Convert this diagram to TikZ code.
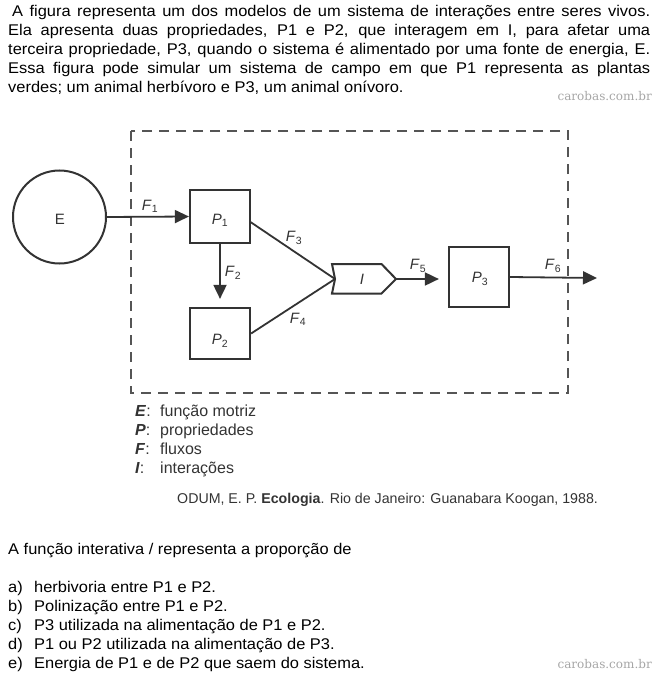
\documentclass[tikz,border=0pt]{standalone}
\usepackage{fontspec}
\setmainfont{Liberation Sans}
\newfontfamily\widefont[FakeStretch=1.06]{Liberation Sans}
\newfontfamily\wmfont{DejaVu Serif}
\usetikzlibrary{arrows.meta}
\definecolor{ink}{HTML}{333333}
\definecolor{dashgray}{HTML}{555555}
\definecolor{wm}{HTML}{A6A6A6}
\newcommand{\jline}[1]{\hbox to 642pt{#1}}
\newcommand{\Fl}[1]{\textit{F}\textsubscript{#1}}
\newcommand{\Pl}[1]{\textit{P}\textsubscript{#1}}
\begin{document}
\begin{tikzpicture}[x=1pt,y=-1pt,
  txt/.style={anchor=base west, inner sep=0pt, font=\widefont\fontsize{15.5}{19}\selectfont},
  leg/.style={anchor=base west, inner sep=0pt, text=ink, font=\fontsize{16}{19}\selectfont},
  wmark/.style={anchor=base east, inner sep=0pt, text=wm, font=\wmfont\fontsize{12}{12}\selectfont},
  boxnode/.style={draw=ink, line width=2.2pt, minimum width=60pt, inner sep=0pt},
  flow/.style={draw=ink, line width=1.8pt},
  arr/.style={flow, -{Triangle[length=14pt,width=13pt]}},
  flab/.style={inner sep=0pt, text=ink, font=\fontsize{15}{15}\selectfont},
  border/.style={draw=dashgray, line width=2.4pt, dash pattern=on 10pt off 7pt}
]
\useasboundingbox (0,0) rectangle (657,674);

% top paragraph
\node[txt] (t1) at (8,17) {\jline{\hspace*{4pt}A figura representa um dos modelos de um sistema de interações entre seres vivos.}};
\node[txt] (t2) at (8,36) {\jline{Ela apresenta duas propriedades, P1 e P2, que interagem em I, para afetar uma}};
\node[txt] (t3) at (8,55) {\jline{terceira propriedade, P3, quando o sistema é alimentado por uma fonte de energia, E.}};
\node[txt] (t4) at (8,74) {\jline{Essa figura pode simular um sistema de campo em que P1 representa as plantas}};
\node[txt] (t5) at (8,93) {verdes; um animal herbívoro e P3, um animal onívoro.};
\node[wmark] (w1) at (652,101) {carobas.com.br};

% system border
\draw[border] (131,131) rectangle (568,393);

% nodes
\node[draw=ink, line width=2pt, circle, minimum size=93pt, inner sep=0pt] (E) at (59.5,217) {};
\node[flab] (Elab) at (60,219) {E};
\node[boxnode, minimum height=53pt] (P1) at (220,216.5) {};
\node[flab] (P1lab) at (220,220) {\Pl{1}};
\node[boxnode, minimum height=51pt] (P2) at (220,333.5) {};
\node[flab] (P2lab) at (220,341) {\Pl{2}};
\node[boxnode, minimum height=60pt] (P3) at (479,277) {};
\node[flab] (P3lab) at (480,279) {\Pl{3}};

% interaction shape
\coordinate (Inotch) at (335,279);
\coordinate (Itip) at (396,279);
\draw[draw=ink, line width=2pt, line join=miter] (332,264) -- (381.5,264) -- (Itip) -- (381.5,293.5) -- (332,293.5) -- (Inotch) -- cycle;
\node[flab] (Ilab) at (362,279) {\textit{I}};
\coordinate (F6end) at (597,278);

% connectors
\draw[arr] (E.east) -- (P1.west);
\draw[arr, shorten >=8pt] (P1.south) -- (P2.north);
\draw[flow] (250,221.7) -- (Inotch);
\draw[flow] (P2.east) -- (Inotch);
\draw[arr, shorten >=9pt] (Itip) -- (P3.west |- Itip);
\draw[arr] (P3.east) -- (F6end);

% flow labels
\node[flab] (F1) at (150,206) {\Fl{1}};
\node[flab] (F2) at (233,273) {\Fl{2}};
\node[flab] (F3) at (294,238) {\Fl{3}};
\node[flab] (F4) at (298,319) {\Fl{4}};
\node[flab] (F5) at (418,266) {\Fl{5}};
\node[flab] (F6) at (553,266) {\Fl{6}};

% legend
\node[leg] (lE) at (135,416) {\textbf{\textit{E}}:};
\node[leg] (lEt) at (160,416) {função motriz};
\node[leg] (lP) at (135,435) {\textbf{\textit{P}}:};
\node[leg] (lPt) at (160,435) {propriedades};
\node[leg] (lF) at (135,454) {\textbf{\textit{F}}:};
\node[leg] (lFt) at (160,454) {fluxos};
\node[leg] (lI) at (135,473) {\textbf{\textit{I}}:};
\node[leg] (lIt) at (160,473) {interações};
\node[leg, font=\fontsize{14.2}{16}\selectfont] (cit) at (177,503) {ODUM, E. P. \textbf{Ecologia}. Rio de Janeiro: Guanabara Koogan, 1988.};

% question
\node[txt] (q) at (8,554) {A função interativa / representa a proporção de};
\node[txt] (oa) at (8,592) {a)};
\node[txt] (ta) at (34,592) {herbivoria entre P1 e P2.};
\node[txt] (ob) at (8,611) {b)};
\node[txt] (tb) at (34,611) {Polinização entre P1 e P2.};
\node[txt] (oc) at (8,630) {c)};
\node[txt] (tc) at (34,630) {P3 utilizada na alimentação de P1 e P2.};
\node[txt] (od) at (8,649) {d)};
\node[txt] (td) at (34,649) {P1 ou P2 utilizada na alimentação de P3.};
\node[txt] (oe) at (8,668) {e)};
\node[txt] (te) at (34,668) {Energia de P1 e de P2 que saem do sistema.};
\node[wmark] (w2) at (652,668) {carobas.com.br};
\end{tikzpicture}
\end{document}
